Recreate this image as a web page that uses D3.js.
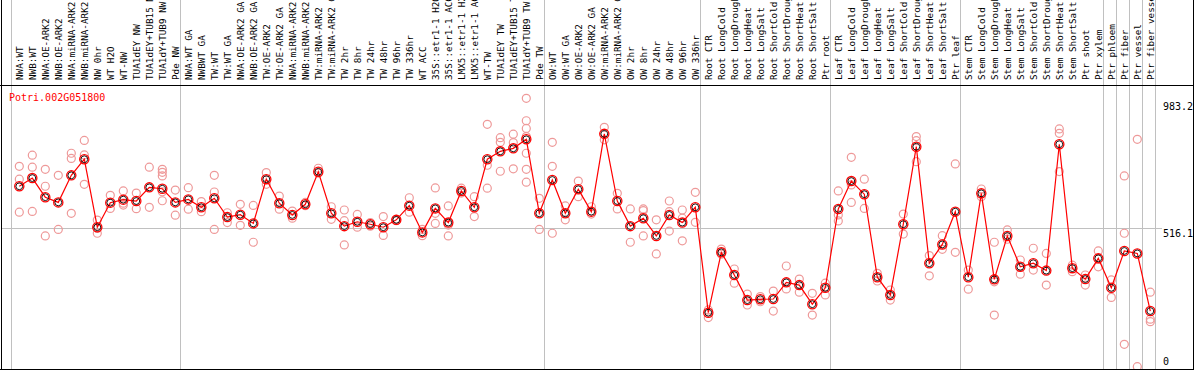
<!DOCTYPE html>
<html><head><meta charset="utf-8">
<script src="https://cdn.jsdelivr.net/npm/d3@7"></script>
<style>html,body{margin:0;padding:0;background:#fff;overflow:hidden}svg{display:block}</style>
</head><body>
<script>
const title = "Potri.002G051800";
const categories = [
"NWA:WT","NWB:WT","NWA:OE-ARK2","NWB:OE-ARK2","NWA:miRNA-ARK2","NWB:miRNA-ARK2","NW 0hr","WT H2O","WT-NW","TUA1dEY NW","TUA1dEY+TUB15 NW","TUA1dY+TUB9 NW","Pde NW",
"NWA:WT GA","NWBWT GA","TW:WT","TW:WT GA","NWA:OE-ARK2 GA","NWB:OE-ARK2 GA","TW:OE-ARK2","TW:OE-ARK2 GA","NWA:miRNA-ARK2 GA","NWB:miRNA-ARK2 GA","TW:miRNA-ARK2","TW:miRNA-ARK2 GA","TW 2hr","TW 8hr","TW 24hr","TW 48hr","TW 96hr","TW 336hr","WT ACC","35S::etr1-1 H2O","35S::etr1-1 ACC","LMX5::etr1-1 H2O","LMX5::etr1-1 ACC","WT-TW","TUA1dEY TW","TUA1dEY+TUB15 TW","TUA1dY+TUB9 TW","Pde TW",
"OW:WT","OW:WT GA","OW:OE-ARK2","OW:OE-ARK2 GA","OW:miRNA-ARK2","OW:miRNA-ARK2 GA","OW 2hr","OW 8hr","OW 24hr","OW 48hr","OW 96hr","OW 336hr",
"Root CTR","Root LongCold","Root LongDrought","Root LongHeat","Root LongSalt","Root ShortCold","Root ShortDrought","Root ShortHeat","Root ShortSalt","Ptr root",
"Leaf CTR","Leaf LongCold","Leaf LongDrought","Leaf LongHeat","Leaf LongSalt","Leaf ShortCold","Leaf ShortDrought","Leaf ShortHeat","Leaf ShortSalt","Ptr leaf",
"Stem CTR","Stem LongCold","Stem LongDrought","Stem LongHeat","Stem LongSalt","Stem ShortCold","Stem ShortDrought","Stem ShortHeat","Stem ShortSalt","Ptr shoot",
"Ptr xylem","Ptr phloem","Ptr fiber","Ptr vessel","Ptr fiber vessel"];
const means = [669,699,629,610,709,768,519,609,620,615,665,660,610,
621,592,625,556,565,533,695,607,564,603,722,570,523,539,530,519,546,598,500,588,536,652,592,768,797,808,841,570,
692,570,658,576,861,615,523,552,487,564,536,592,
206,427,344,252,255,256,317,307,237,297,
586,688,640,336,271,530,814,387,456,576,
336,643,328,487,374,387,360,823,369,329,
405,297,432,423,212];
const replicates = [
[742,695,574],[783,739,577],[731,669,487],[709,511],[790,771,570],[837,784,676],[545,515,497],[636,588],[652,607,600],[644,587],[739,592],[731,720,707,649,616],[655,563],
[664,585],[613,576],[709,648,511],[572,536],[603,526],[599,464],[719,676],[633,585],[578,552],[610,598],[735,717],[594,548],[582,543,454],[566,519],[536,523],[558,489],[548,543],[627,574],[511,488],[663,570,533],[597,527,487],[662,644],[631,558],[896,746,662],[847,830,724],[860,829,733],[991,909,881,851,790,731,684],[625,511],
[830,742,497],[597,546],[688,631],[594,567],[885,839],[643,586],[586,464],[586,580,487],[546,421],[615,576,505],[582,552,469],[647,537],
[216,188],[439,420],[366,314],[274,234],[265,246],[285,212],[377,293],[329,281],[277,197],[314,271],
[652,564,542],[775,674,610],[695,588],[350,322],[289,252],[567,494],[851,836,759],[415,341],[488,438],[751,427],
[362,292],[659,631],[464,319,197],[509,475],[399,347],[442,362],[423,307],[879,863,723],[356,380],[344,307],
[432,374],[326,262],[707,497,90],[841,8],[281,182,173]];
const groupStarts = ["NWA:WT","NWA:WT GA","OW:WT","Root CTR","Leaf CTR","Stem CTR","Ptr phloem","Ptr fiber","Ptr vessel","Ptr fiber vessel"];
const yTicks = [0, 516.1, 983.2];
const yTickLabels = ["0","516.1","983.2"];

const W = 1194, H = 370;
const svg = d3.select("body").append("svg").attr("width", W).attr("height", H);
const font = "'DejaVu Sans Mono', monospace";

const x = d3.scaleBand().domain(categories).range([11.3, 11.3 + 13 * categories.length]);
const px = c => x(c) + 8;
const y = d3.scaleLinear().domain([0, 983.2]).range([368.9, 100.5]);

// vertical grid lines
const gx = groupStarts.map(c => x(c)).concat([x.range()[1]]);
svg.append("g").selectAll("line").data(gx).join("line")
  .attr("x1", d => Math.round(d) + 0.5).attr("x2", d => Math.round(d) + 0.5)
  .attr("y1", 0).attr("y2", 369).attr("stroke", "#c0c0c0").attr("stroke-width", 1);

// horizontal grid line
svg.append("line").attr("x1", 2).attr("x2", 1162)
  .attr("y1", Math.round(y(516.1)) + 0.5).attr("y2", Math.round(y(516.1)) + 0.5)
  .attr("stroke", "#c0c0c0");

// replicates
const repPts = [];
categories.forEach((c, i) => replicates[i].forEach(v => repPts.push({c, v})));
svg.append("g").selectAll("circle").data(repPts).join("circle")
  .attr("cx", d => px(d.c)).attr("cy", d => y(d.v)).attr("r", 4)
  .attr("fill", "none").attr("stroke", "#ee9999").attr("stroke-width", 1.2);

// mean line
svg.append("path").datum(means)
  .attr("d", d3.line().x((d, i) => px(categories[i])).y(d => y(d)))
  .attr("fill", "none").attr("stroke", "#ff0000").attr("stroke-width", 1.2);

// mean markers
const mg = svg.append("g");
mg.selectAll("circle.o").data(means).join("circle").attr("class", "o")
  .attr("cx", (d, i) => px(categories[i])).attr("cy", d => y(d)).attr("r", 4.6)
  .attr("fill", "none").attr("stroke", "#ff0000").attr("stroke-width", 1.3);
mg.selectAll("circle.i").data(means).join("circle").attr("class", "i")
  .attr("cx", (d, i) => px(categories[i])).attr("cy", d => y(d)).attr("r", 3.4)
  .attr("fill", "none").attr("stroke", "#000").attr("stroke-width", 0.9);

// header labels
svg.append("g").selectAll("text").data(categories).join("text")
  .attr("transform", c => `translate(${px(c) + 3.5},80) rotate(-90)`)
  .attr("font-family", font).attr("font-size", "9.3px").attr("fill", "#000")
  .text(c => c);

// title
svg.append("text").attr("x", 9).attr("y", 100.5).attr("font-family", font)
  .attr("font-size", "10px").attr("fill", "#ff0000").text(title);

// right axis labels
svg.append("g").selectAll("text").data(yTicks).join("text")
  .attr("x", 1163).attr("y", d => Math.min(y(d) + 9, 365))
  .attr("font-family", font).attr("font-size", "10px").attr("fill", "#000")
  .text((d, i) => yTickLabels[i]);

// borders
svg.append("line").attr("x1", 0).attr("x2", W).attr("y1", 85.5).attr("y2", 85.5).attr("stroke", "#000");
svg.append("line").attr("x1", 0).attr("x2", W).attr("y1", 369.5).attr("y2", 369.5).attr("stroke", "#000");
svg.append("line").attr("x1", 1.5).attr("x2", 1.5).attr("y1", 0).attr("y2", H).attr("stroke", "#000");
svg.append("line").attr("x1", 1193.5).attr("x2", 1193.5).attr("y1", 0).attr("y2", H).attr("stroke", "#000");
</script>
</body></html>
